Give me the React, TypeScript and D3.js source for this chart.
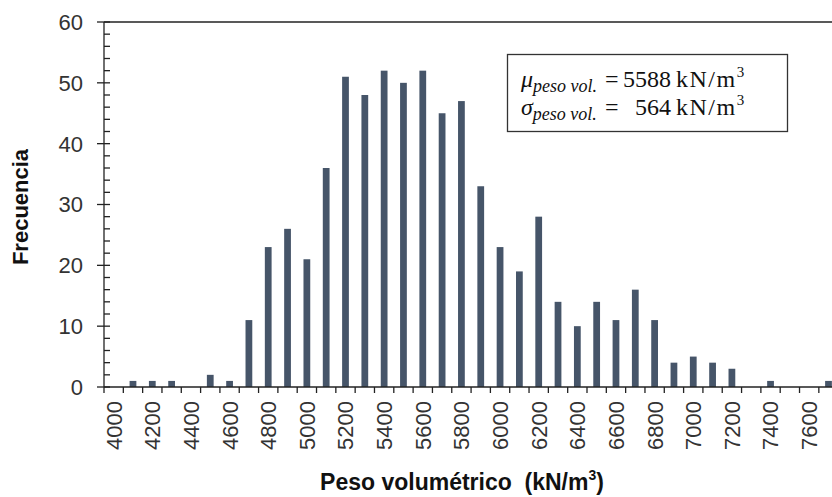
import * as d3 from "d3"

// histogram bins (kN/m3) and counts
const bins: number[] = d3.range(4000, 7800, 100)
const counts: number[] = [
  0, 1, 1, 1, 0, 2, 1, 11, 23, 26,
  21, 36, 51, 48, 52, 50, 52, 45, 47, 33,
  23, 19, 28, 14, 10, 14, 11, 16, 11, 4,
  5, 4, 3, 0, 1, 0, 0, 1,
]
const yTicks: number[] = [0, 10, 20, 30, 40, 50, 60]
const xLabels: number[] = bins.filter((_, i) => i % 2 === 0)

const W = 832
const H = 497
const left = 104
const bottom = 387
const top = 22
const step = 19.32

export default function App() {
  const x = d3
    .scaleBand<number>()
    .domain(bins)
    .range([left, left + step * bins.length])
    .paddingInner(0.65)
    .paddingOuter(0.325)

  const y = d3.scaleLinear().domain([0, 60]).range([bottom, top])

  const minor = d3.range(0, 61, 2).filter((v) => v % 10 !== 0)
  const bounds = d3.range(0, bins.length + 1).map((i) => left + x.step() * i)

  const sans = "'Liberation Sans', Arial, sans-serif"
  const serif = "'Liberation Serif', 'Times New Roman', serif"

  return (
    <svg
      width={W}
      height={H}
      style={{ position: "absolute", left: 0, top: 0, background: "#fff" }}
    >
      {/* bars */}
      {bins.map((b, i) => (
        <rect
          key={b}
          x={x(b)}
          y={y(counts[i])}
          width={x.bandwidth()}
          height={bottom - y(counts[i])}
          fill="#465569"
        />
      ))}

      {/* plot frame top + axes */}
      <line x1={left} x2={W} y1={top} y2={top} stroke="#222" strokeWidth={1.3} />
      <line x1={left} x2={left} y1={top} y2={bottom} stroke="#222" strokeWidth={1.3} />
      <line x1={left} x2={W} y1={bottom} y2={bottom} stroke="#222" strokeWidth={1.3} />

      {/* y ticks */}
      {yTicks.map((t) => (
        <g key={t}>
          <line x1={left - 7} x2={left + 6} y1={y(t)} y2={y(t)} stroke="#222" strokeWidth={1.3} />
          <text
            x={83}
            y={y(t)}
            dy="0.36em"
            textAnchor="end"
            fontFamily={sans}
            fontSize={22}
            fill="#333"
          >
            {t}
          </text>
        </g>
      ))}
      {minor.map((t) => (
        <line key={t} x1={left} x2={left + 6} y1={y(t)} y2={y(t)} stroke="#222" strokeWidth={1.3} />
      ))}

      {/* x ticks */}
      {bounds.map((bx, i) => (
        <line key={i} x1={bx} x2={bx} y1={bottom} y2={bottom + 6} stroke="#222" strokeWidth={1.3} />
      ))}
      {xLabels.map((v) => {
        const cx = (x(v) ?? 0) + x.bandwidth() / 2
        return (
          <text
            key={v}
            transform={`translate(${cx},${401}) rotate(-90)`}
            dy="0.36em"
            textAnchor="end"
            fontFamily={sans}
            fontSize={22}
            fill="#333"
          >
            {v}
          </text>
        )
      })}

      {/* axis titles */}
      <text
        transform="translate(28,207) rotate(-90)"
        textAnchor="middle"
        fontFamily={sans}
        fontSize={22}
        fontWeight="bold"
        fill="#111"
      >
        Frecuencia
      </text>
      <text
        x={462}
        y={490}
        textAnchor="middle"
        fontFamily={sans}
        fontSize={23}
        fontWeight="bold"
        fill="#111"
      >
        {"Peso volumétrico \u00a0(kN/m"}
        <tspan fontSize={14} dy={-10}>3</tspan>
        <tspan dy={10}>)</tspan>
      </text>

      {/* stats box */}
      <rect x={507.5} y={54.5} width={280} height={77} fill="#fff" stroke="#333" strokeWidth={1.3} />
      <g fontFamily={serif} fontSize={24} fill="#111">
        <text x={521} y={87}>
          <tspan fontStyle="italic">μ</tspan>
          <tspan fontStyle="italic" fontSize={18} dy={5}>peso vol.</tspan>
        </text>
        <text x={605} y={87}>=</text>
        <text x={671} y={87} textAnchor="end">5588</text>
        <text x={676} y={87} letterSpacing={1.5}>
          kN/m<tspan fontSize={15} dy={-10}>3</tspan>
        </text>

        <text x={521} y={115}>
          <tspan fontStyle="italic">σ</tspan>
          <tspan fontStyle="italic" fontSize={18} dy={5}>peso vol.</tspan>
        </text>
        <text x={605} y={115}>=</text>
        <text x={671} y={115} textAnchor="end">564</text>
        <text x={676} y={115} letterSpacing={1.5}>
          kN/m<tspan fontSize={15} dy={-10}>3</tspan>
        </text>
      </g>
    </svg>
  )
}
